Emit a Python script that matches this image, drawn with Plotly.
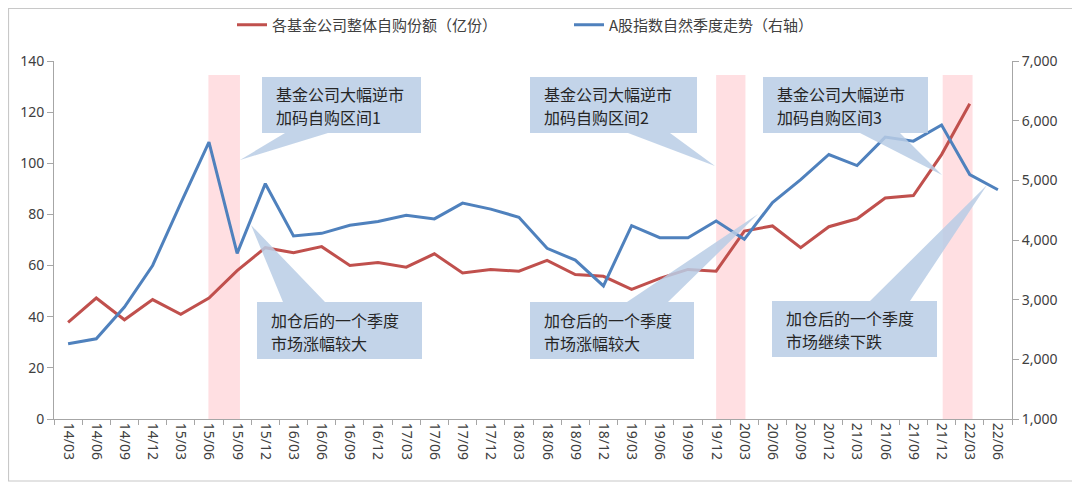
import plotly.graph_objects as go

categories = ["14/03","14/06","14/09","14/12","15/03","15/06","15/09","15/12",
              "16/03","16/06","16/09","16/12","17/03","17/06","17/09","17/12",
              "18/03","18/06","18/09","18/12","19/03","19/06","19/09","19/12",
              "20/03","20/06","20/09","20/12","21/03","21/06","21/09","21/12",
              "22/03","22/06"]

self_buy = [37.8, 47.3, 38.8, 46.7, 40.9, 47.3, 58.0, 67.0,
            65.0, 67.4, 60.0, 61.2, 59.4, 64.6, 57.1, 58.5,
            57.8, 62.0, 56.5, 55.8, 50.7, 55.0, 58.5, 57.8,
            73.5, 75.5, 67.0, 75.2, 78.3, 86.4, 87.4, 103.4,
            123.3, None]

a_index = [2260, 2345, 2876, 3573, 4618, 5640, 3775, 4944,
           4067, 4112, 4248, 4309, 4416, 4354, 4618, 4517,
           4382, 3860, 3663, 3230, 4241, 4039, 4039, 4320,
           4011, 4629, 5011, 5433, 5247, 5724, 5657, 5927,
           5096, 4843]

# shaded periods, in category-index units (0 = first category centre)
band_ranges = [(4.98, 6.1), (23.0, 24.04), (31.04, 32.1)]

callout_lines = [("基金公司大幅逆市", "加码自购区间1"),
                 ("基金公司大幅逆市", "加码自购区间2"),
                 ("基金公司大幅逆市", "加码自购区间3"),
                 ("加仓后的一个季度", "市场涨幅较大"),
                 ("加仓后的一个季度", "市场涨幅较大"),
                 ("加仓后的一个季度", "市场继续下跌")]

name_red = "各基金公司整体自购份额（亿份）"
name_blue = "A股指数自然季度走势（右轴）"

# page geometry: the page body adds an 8px offset
OFF = 8
FW, FH = 1080 - OFF, 484 - OFF
PL, PT, PW, PH = 54, 61, 958, 358          # plot area in window pixels
L, T = PL - OFF, PT - OFF
R = FW - L - PW
B = FH - T - PH

def px(x):
    return (x - PL) / PW

def py(y):
    return (PT + PH - y) / PH

fig = go.Figure()
fig.add_trace(go.Scatter(x=categories, y=self_buy, name=name_red, mode="lines",
                         line=dict(color="#C0504D", width=3), yaxis="y"))
fig.add_trace(go.Scatter(x=categories, y=a_index, name=name_blue, mode="lines",
                         line=dict(color="#4F81BD", width=3), yaxis="y2"))

shapes = []
for x0, x1 in band_ranges:
    shapes.append(dict(type="rect", xref="x", yref="y", x0=x0, x1=x1,
                       y0=0, y1=134.5, fillcolor="#FFDFE2", line=dict(width=0),
                       layer="below"))

# callouts: (box x0, x1, y0, y1, base_a, base_b, tip_x, tip_y, upper)
callouts = [
    (262, 421, 77, 133, 285, 328, 240, 160, True),
    (530, 697, 77, 133, 628, 670, 715, 166, True),
    (763, 928, 77, 133, 860, 900, 942, 175, True),
    (257, 422, 302, 359, 283, 325, 251, 225, False),
    (530, 694, 302, 359, 627, 668, 758, 214, False),
    (772, 937, 301, 357, 870, 910, 987, 185, False),
]

annotations = []
for (bx0, bx1, by0, by1, ba, bb, tx, ty, upper), lines in zip(callouts, callout_lines):
    if upper:
        pts = [(bx0, by0), (bx1, by0), (bx1, by1), (bb, by1), (tx, ty), (ba, by1), (bx0, by1)]
    else:
        pts = [(bx0, by0), (ba, by0), (tx, ty), (bb, by0), (bx1, by0), (bx1, by1), (bx0, by1)]
    path = "M " + " L ".join(f"{px(a):.5f},{py(b):.5f}" for a, b in pts) + " Z"
    shapes.append(dict(type="path", xref="paper", yref="paper", path=path,
                       fillcolor="rgba(185,205,229,0.85)", line=dict(width=0),
                       layer="above"))
    mid = (by0 + by1) / 2
    for k, line in enumerate(lines):
        yy = mid - 11 if k == 0 else mid + 12
        annotations.append(dict(xref="paper", yref="paper", x=px(bx0 + 13), y=py(yy),
                                xanchor="left", yanchor="middle", align="left", showarrow=False,
                                text=line, borderpad=0,
                                font=dict(family="Noto Sans CJK SC", size=16, color="#262626")))

# outer frame
shapes.append(dict(type="rect", xref="paper", yref="paper", x0=px(OFF + 0.5), x1=px(1077.5),
                   y0=py(481), y1=py(OFF + 0.5), line=dict(color="#C8C8C8", width=1.2),
                   fillcolor="rgba(0,0,0,0)", layer="below"))

axis_font = dict(family="Noto Sans", size=14, color="#404040")

fig.update_layout(
    width=FW, height=FH,
    margin=dict(l=L, r=R, t=T, b=B, pad=0, autoexpand=False),
    paper_bgcolor="white", plot_bgcolor="white",
    showlegend=True,
    legend=dict(orientation="h", x=px(232), xanchor="left", y=py(25), yanchor="middle",
                font=dict(family="Noto Sans CJK SC", size=15, color="#404040"),
                bgcolor="rgba(0,0,0,0)", itemwidth=30, entrywidth=292),
    xaxis=dict(type="category", categoryorder="array", categoryarray=categories,
               range=[-0.5, len(categories) - 0.5], tickangle=90, tickfont=axis_font,
               showline=True, linecolor="#A6A6A6", linewidth=1, ticks="outside",
               tickson="boundaries", ticklen=5, tickcolor="#A6A6A6", showgrid=False,
               zeroline=False, fixedrange=True, automargin=False),
    yaxis=dict(range=[0, 140], dtick=20, tickfont=axis_font, showline=True,
               linecolor="#A6A6A6", linewidth=1, ticks="outside", ticklen=6,
               tickcolor="#A6A6A6", showgrid=False, zeroline=False, automargin=False),
    yaxis2=dict(range=[1000, 7000], dtick=1000, tickformat=",", tickfont=axis_font,
                overlaying="y", side="right", showline=True, linecolor="#A6A6A6",
                linewidth=1, ticks="outside", ticklen=6, tickcolor="#A6A6A6",
                showgrid=False, zeroline=False, automargin=False),
    shapes=shapes,
    annotations=annotations,
)

fig.write_html("out.html")
